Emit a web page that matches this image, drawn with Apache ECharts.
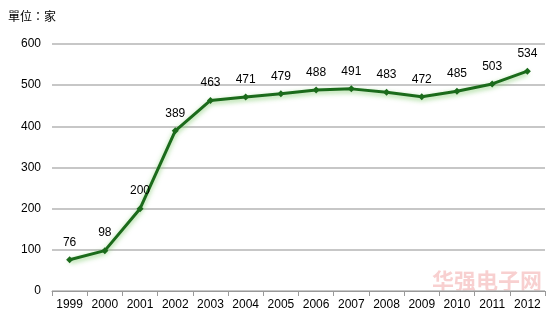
<!DOCTYPE html>
<html><head><meta charset="utf-8">
<script src="https://cdn.jsdelivr.net/npm/echarts@6/dist/echarts.min.js"></script>
<style>html,body{margin:0;padding:0;background:#fff}#c{width:556px;height:323px}</style>
</head><body><div id="c"></div>
<script>
const categories = ['1999','2000','2001','2002','2003','2004','2005','2006','2007','2008','2009','2010','2011','2012'];
const values = [76, 98, 200, 389, 463, 471, 479, 488, 491, 483, 472, 485, 503, 534];
const unitLabel = '單位：家';
const chart = echarts.init(document.getElementById('c'));
chart.setOption({
  animation: false,
  backgroundColor: '#fff',
  grid: {left: 52, right: 11, top: 44, bottom: 32},
  graphic: [
    {type: 'text', left: 8, top: 10, style: {text: unitLabel, fontSize: 12, fill: '#000', fontFamily: 'Noto Sans CJK TC'}},
    {type: 'text', left: 432, top: 270, z: -1, style: {text: '华强电子网', fontSize: 22, fontWeight: 'bold', fill: 'rgba(235,120,120,0.35)', fontFamily: 'Noto Sans CJK SC'}}
  ],
  xAxis: {
    type: 'category', data: categories, boundaryGap: true,
    axisLine: {lineStyle: {color: '#999'}},
    axisTick: {show: true, interval: 0, lineStyle: {color: '#999'}},
    axisLabel: {color: '#000', fontSize: 12, fontFamily: 'Liberation Sans', interval: 0, margin: 8}
  },
  yAxis: {
    type: 'value', min: 0, max: 600, interval: 100,
    axisLine: {show: false}, axisTick: {show: false},
    axisLabel: {color: '#000', fontSize: 12, fontFamily: 'Liberation Sans', margin: 11},
    splitLine: {lineStyle: {color: '#b4b4b4', width: 1.5}}
  },
  series: [{
    type: 'line', data: values,
    symbol: 'diamond', symbolSize: 7,
    lineStyle: {color: '#1b6b1b', width: 3, shadowColor: 'rgba(120,200,100,0.8)', shadowBlur: 5, shadowOffsetY: 2},
    itemStyle: {color: '#1b6b1b'},
    label: {show: true, position: 'top', distance: 8, color: '#000', fontSize: 12, fontFamily: 'Liberation Sans'}
  }]
});
</script></body></html>
